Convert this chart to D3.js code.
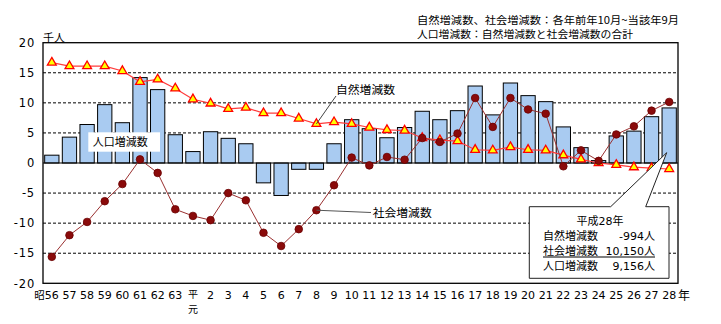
<!DOCTYPE html>
<html><head><meta charset="utf-8">
<script src="https://cdn.jsdelivr.net/npm/d3@7/dist/d3.min.js"></script>
<style>body{margin:0;background:#fff} svg{display:block}</style>
</head><body><div id="chart"></div>
<script>
const categories = ["昭56","57","58","59","60","61","62","63","平元","2","3","4","5","6","7","8","9","10","11","12","13","14","15","16","17","18","19","20","21","22","23","24","25","26","27","28"];
const popChange = [1.3,4.3,6.4,9.7,6.7,14.2,12.2,4.7,1.9,5.2,4.1,3.2,-3.3,-5.4,-1.05,-1.05,3.2,7.2,5.7,4.2,5.9,8.6,7.2,8.7,12.8,8.0,13.3,11.2,10.2,6.0,2.55,0.4,4.5,5.3,7.7,9.156];
const naturalChange = [16.7,16.1,16.1,16.1,15.3,13.5,13.9,12.4,10.6,9.9,9.0,9.2,8.3,8.3,7.4,6.5,6.8,6.5,5.9,5.5,5.4,4.15,3.8,3.65,2.2,2.1,2.65,2.2,2.1,1.3,0.6,0.0,-0.3,-0.7,-0.85,-0.994];
const socialChange = [-15.6,-12.0,-9.8,-6.35,-3.5,0.6,-1.65,-7.7,-8.8,-9.5,-5.0,-6.2,-11.6,-13.8,-11.0,-7.85,-3.7,0.9,-0.4,1.0,0.55,4.15,3.5,4.9,10.8,6.0,10.8,8.9,8.2,-0.55,2.1,0.35,4.75,6.1,8.7,10.15];
const yTicks = [-20,-15,-10,-5,0,5,10,15,20];
const headerLines = ["自然増減数、社会増減数：各年前年10月~当該年9月","人口増減数：自然増減数と社会増減数の合計"];
const calloutTitle = "平成28年";
const calloutRows = [["自然増減数","-994人"],["社会増減数","10,150人"],["人口増減数","9,156人"]];
const seriesLabels = {pop:"人口増減数", natural:"自然増減数", social:"社会増減数"};

const W = 721, H = 324;
const L = 43, R = 678, T = 42.7, B = 283.3;
const NUM = "'DejaVu Sans','Noto Sans CJK JP',sans-serif";
const JP = "'Noto Sans CJK JP',sans-serif";

const svg = d3.select("#chart").append("svg").attr("width", W).attr("height", H);
const x = d3.scaleBand().domain(categories).range([L, R]).paddingInner(0.19).paddingOuter(0.095);
const y = d3.scaleLinear().domain([-20, 20]).range([B, T]);
const cx = c => x(c) + x.bandwidth() / 2;

// header
headerLines.forEach((t, i) => {
  svg.append("text").attr("x", 417).attr("y", 23.5 + i * 14)
    .attr("font-family", JP).attr("font-size", 10.5)
    .attr("textLength", i === 0 ? 262 : 216).attr("lengthAdjust", "spacingAndGlyphs")
    .text(t);
});
svg.append("text").attr("x", L).attr("y", 41.5).attr("font-family", JP).attr("font-size", 11).text("千人");

// grid
svg.append("g").selectAll("line").data(yTicks.filter(d => d !== 0 && Math.abs(d) !== 20)).join("line")
  .attr("x1", L).attr("x2", R).attr("y1", d => y(d)).attr("y2", d => y(d))
  .attr("stroke", "#000").attr("stroke-width", 1).attr("stroke-dasharray", "3,2");

// y labels
svg.append("g").selectAll("text").data(yTicks).join("text")
  .attr("x", 35).attr("y", d => y(d) + 4.2).attr("text-anchor", "end")
  .attr("font-family", NUM).attr("font-size", 11.5).attr("letter-spacing", 0.8)
  .text(d => d);

// bars
svg.append("g").selectAll("rect").data(categories).join("rect")
  .attr("x", d => x(d)).attr("width", x.bandwidth())
  .attr("y", (d, i) => y(Math.max(0, popChange[i])))
  .attr("height", (d, i) => Math.abs(y(popChange[i]) - y(0)))
  .attr("fill", "#a9cbf1").attr("stroke", "#000").attr("stroke-width", 1);

// zero line
svg.append("line").attr("x1", L).attr("x2", R).attr("y1", y(0)).attr("y2", y(0)).attr("stroke", "#000").attr("stroke-width", 1.2);

// natural
const sLine = d3.line().x((d, i) => cx(categories[i])).y(d => y(d));
svg.append("path").attr("d", sLine(naturalChange)).attr("fill", "none").attr("stroke", "#ff3b3b").attr("stroke-width", 1.2);
const tri = d3.symbol().type(d3.symbolTriangle).size(34);
svg.append("g").selectAll("path").data(naturalChange).join("path")
  .attr("d", tri).attr("transform", (d, i) => `translate(${cx(categories[i])},${y(d)})`)
  .attr("fill", "#ffff00").attr("stroke", "#ff0000").attr("stroke-width", 1.3);

// social
svg.append("path").attr("d", sLine(socialChange)).attr("fill", "none").attr("stroke", "#9a3030").attr("stroke-width", 1);
svg.append("g").selectAll("circle").data(socialChange).join("circle")
  .attr("cx", (d, i) => cx(categories[i])).attr("cy", d => y(d)).attr("r", 3.8)
  .attr("fill", "#8a0a0a").attr("stroke", "#6a0000").attr("stroke-width", 0.8);

// x labels
const xl = svg.append("g").attr("font-family", NUM).attr("font-size", 11).attr("text-anchor", "middle");
categories.forEach(c => {
  const px = cx(c);
  if (c.startsWith("昭")) {
    xl.append("text").attr("x", px).attr("y", 298.5).text(c.slice(1));
    xl.append("text").attr("x", px - 7).attr("y", 298.5).attr("text-anchor", "end").attr("font-family", JP).attr("font-size", 10.5).text(c[0]);
  } else if (c.startsWith("平")) {
    xl.append("text").attr("x", px).attr("y", 298).attr("font-family", JP).attr("font-size", 10).text(c[0]);
    xl.append("text").attr("x", px).attr("y", 313).attr("font-family", JP).attr("font-size", 10).text(c[1]);
  } else {
    xl.append("text").attr("x", px).attr("y", 298.5).text(c);
  }
});
svg.append("text").attr("x", 678).attr("y", 300).attr("font-family", JP).attr("font-size", 12).text("年");

// series labels
svg.append("rect").attr("x", 88.3).attr("y", 132.3).attr("width", 71.7).attr("height", 19.4).attr("fill", "#fff");
svg.append("text").attr("x", 92.7).attr("y", 146).attr("font-family", JP).attr("font-size", 11).text(seriesLabels.pop);

const i8 = categories.indexOf("8");
svg.append("line").attr("x1", 336).attr("y1", 96).attr("x2", cx(categories[i8])).attr("y2", y(naturalChange[i8]))
  .attr("stroke", "#444").attr("stroke-width", 1);
svg.append("text").attr("x", 336).attr("y", 94).attr("font-family", JP).attr("font-size", 11.8).text(seriesLabels.natural);
svg.append("line").attr("x1", cx(categories[i8])).attr("y1", y(socialChange[i8])).attr("x2", 371).attr("y2", 212.5)
  .attr("stroke", "#555").attr("stroke-width", 1);
svg.append("text").attr("x", 372.7).attr("y", 217).attr("font-family", JP).attr("font-size", 11.8).text(seriesLabels.social);

// callout
svg.append("path").attr("d", "M529.3,206.7H610.7L666.7,152.7L645.7,206.7H669V278.3H529.3Z")
  .attr("fill", "#fff").attr("stroke", "#222").attr("stroke-width", 1);
svg.append("text").attr("x", 600).attr("y", 224.5).attr("text-anchor", "middle").attr("font-family", NUM).attr("font-size", 11).text(calloutTitle);
calloutRows.forEach((r, i) => {
  const by = 239.5 + i * 15;
  svg.append("text").attr("x", 543).attr("y", by).attr("font-family", JP).attr("font-size", 11).text(r[0]);
  svg.append("text").attr("x", 655).attr("y", by).attr("text-anchor", "end").attr("font-family", NUM).attr("font-size", 11).text(r[1]);
  if (i === 1) svg.append("line").attr("x1", 543).attr("x2", 655).attr("y1", by + 2.5).attr("y2", by + 2.5).attr("stroke", "#000").attr("stroke-width", 1);
});

// frame
svg.append("rect").attr("x", L).attr("y", T).attr("width", R - L).attr("height", B - T)
  .attr("fill", "none").attr("stroke", "#000").attr("stroke-width", 1.3);
</script></body></html>
